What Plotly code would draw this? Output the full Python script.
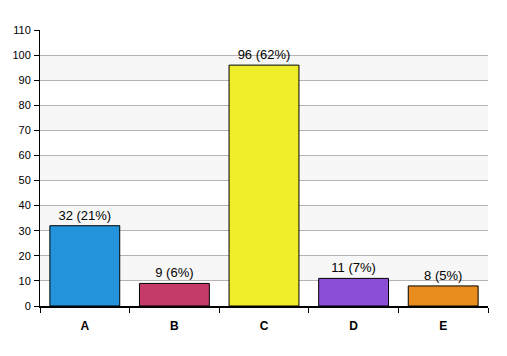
import plotly.graph_objects as go

categories = ["A", "B", "C", "D", "E"]
counts = [32, 9, 96, 11, 8]
percents = [21, 6, 62, 7, 5]
colors = ["#2394dc", "#c43a68", "#eeee2b", "#8a4fd6", "#e88c1d"]
y_ticks = list(range(0, 111, 10))

labels = [f"{c} ({p}%)" for c, p in zip(counts, percents)]

fig = go.Figure(go.Bar(
    x=categories, y=counts, text=labels, textposition="outside",
    textfont=dict(family="Liberation Sans, Arial", size=13, color="#000"),
    marker=dict(color=colors, line=dict(color="#000", width=1)),
    width=0.78, cliponaxis=False,
))

shapes = []
for i in range(len(y_ticks) - 1):
    if (y_ticks[i] // 10) % 2 == 1:
        shapes.append(dict(type="rect", xref="paper", yref="y", x0=0, x1=1,
                           y0=y_ticks[i], y1=y_ticks[i + 1],
                           fillcolor="#f7f7f7", line=dict(width=0), layer="below"))

fig.update_layout(
    width=507, height=356,
    margin=dict(l=32, r=27, t=22, b=58),
    paper_bgcolor="white", plot_bgcolor="white",
    showlegend=False, shapes=shapes,
    font=dict(family="Liberation Sans, Arial", size=11, color="#000"),
    xaxis=dict(showline=True, linecolor="#000", linewidth=2, ticks="outside",
               tickson="boundaries", ticklen=5, tickcolor="#000",
               tickfont=dict(size=12, family="Liberation Sans, Arial", weight="bold"),
               ticklabelstandoff=8, showgrid=False, automargin=False),
    yaxis=dict(range=[0, 110], tickvals=y_ticks, showline=True, linecolor="#000",
               linewidth=1, ticks="outside", ticklen=5, tickcolor="#000",
               gridcolor="#b4b4b4", gridwidth=1, zeroline=False,
               tickfont=dict(size=11), automargin=False, ticklabelstandoff=1),
    bargap=0.22,
)

fig.write_html("out.html")
